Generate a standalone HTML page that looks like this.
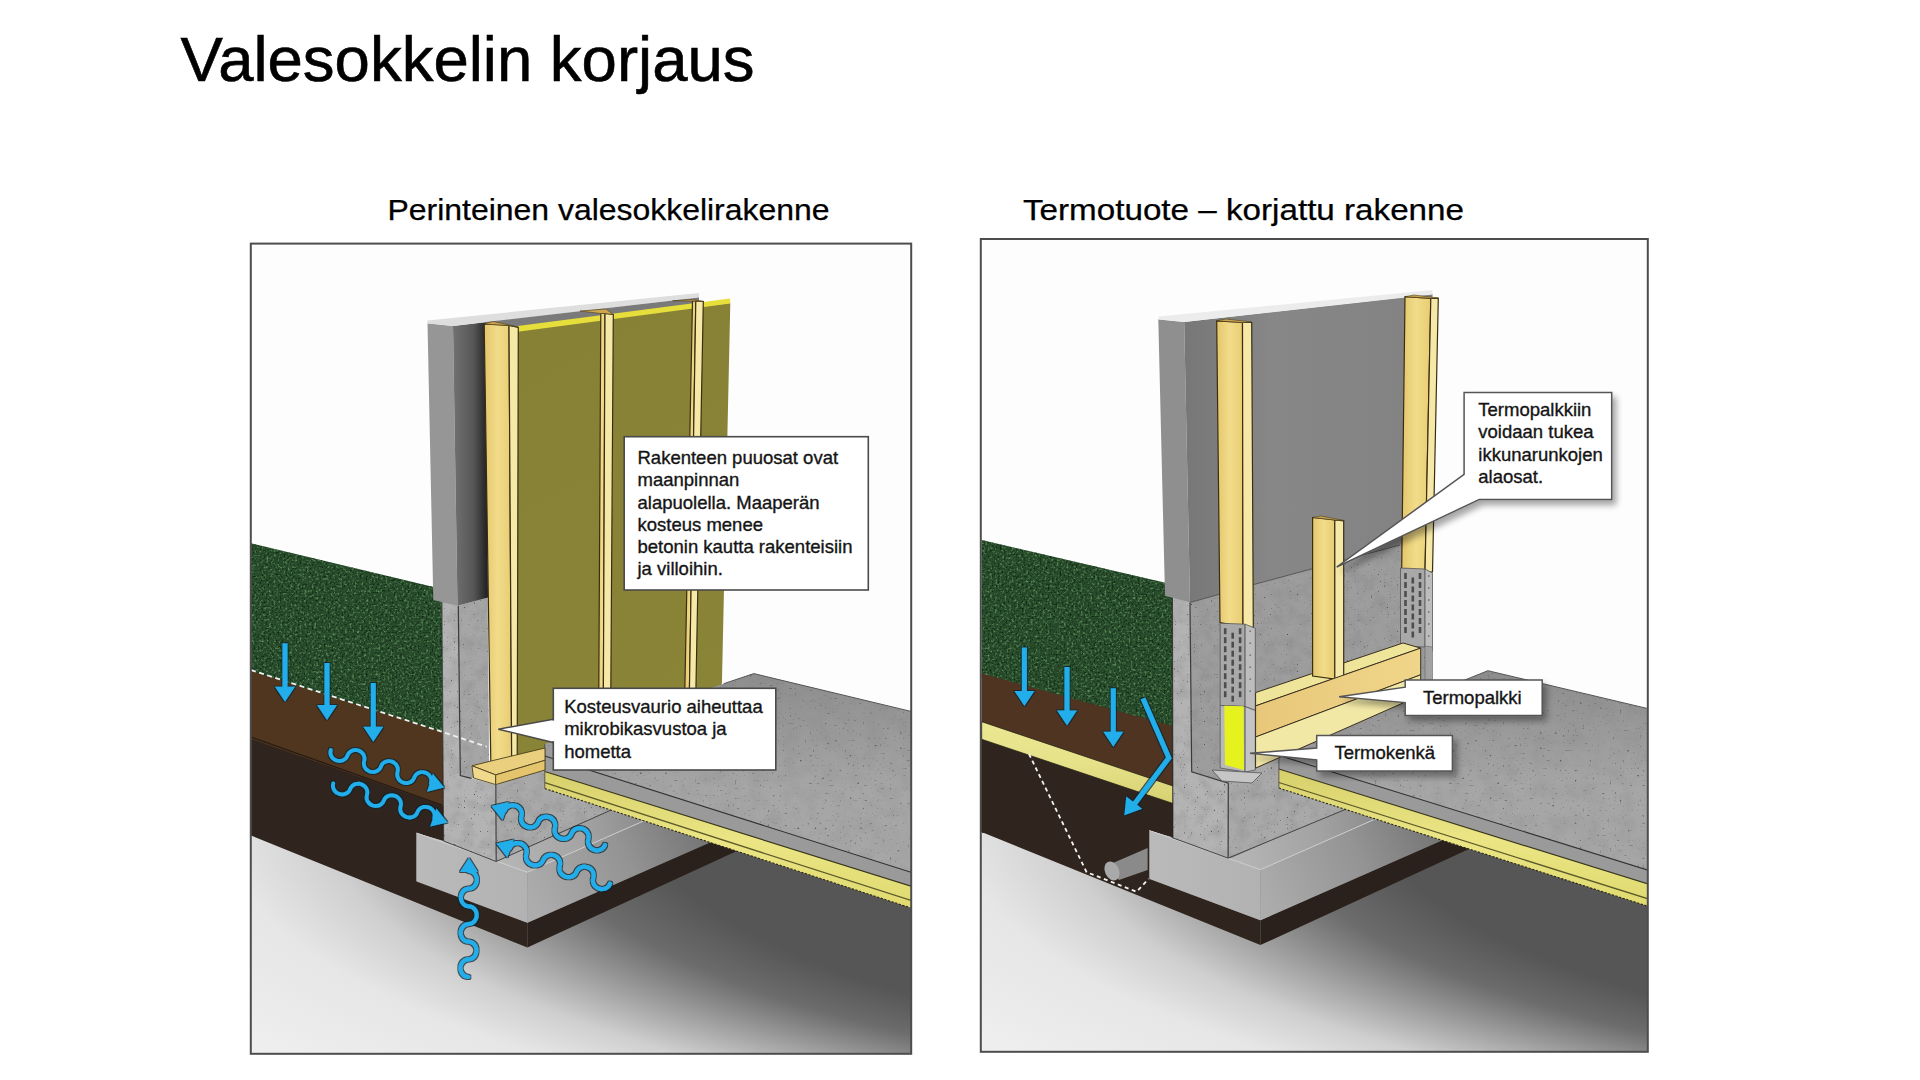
<!DOCTYPE html>
<html><head><meta charset="utf-8"><title>Valesokkelin korjaus</title>
<style>
html,body{margin:0;padding:0;background:#fff;width:1920px;height:1080px;overflow:hidden}
svg{position:absolute;left:0;top:0}
.c{font-family:"Liberation Sans",sans-serif;font-size:18.5px;fill:#151515;stroke:#151515;stroke-width:0.35px}
.t{font-family:"Liberation Sans",sans-serif;fill:#000;stroke:#000;stroke-width:0.6px}
</style></head><body>
<svg width="1920" height="1080" viewBox="0 0 1920 1080">

<defs>
 <radialGradient id="floorL" gradientUnits="userSpaceOnUse" cx="0" cy="0" r="1.8" gradientTransform="translate(2000 768.5) rotate(-1.83) scale(1124.7 268)">
   <stop offset="0" stop-color="#565656"/><stop offset="0.671" stop-color="#565656"/><stop offset="0.723" stop-color="#6c6c6c"/><stop offset="0.775" stop-color="#9e9e9e"/><stop offset="0.827" stop-color="#cfcfcf"/><stop offset="0.879" stop-color="#e6e6e6"/><stop offset="1" stop-color="#f0f0f0"/></radialGradient>
 <linearGradient id="footFront" x1="0" y1="0" x2="1" y2="0"><stop offset="0" stop-color="#bababa"/><stop offset="1" stop-color="#b2b2b2"/></linearGradient>
 <linearGradient id="footTop" gradientUnits="userSpaceOnUse" x1="450" y1="850" x2="780" y2="760"><stop offset="0" stop-color="#c0c0c0"/><stop offset="0.4" stop-color="#a2a2a2"/><stop offset="0.7" stop-color="#7c7c7c"/><stop offset="1" stop-color="#666"/></linearGradient>
 <linearGradient id="footRight" gradientUnits="userSpaceOnUse" x1="530" y1="900" x2="800" y2="780"><stop offset="0" stop-color="#acacac"/><stop offset="0.35" stop-color="#949494"/><stop offset="0.65" stop-color="#737373"/><stop offset="1" stop-color="#5f5f5f"/></linearGradient>
 <linearGradient id="concFrontL" x1="0" y1="0" x2="1" y2="0"><stop offset="0" stop-color="#727272"/><stop offset="0.6" stop-color="#555"/><stop offset="1" stop-color="#1e1e1e"/></linearGradient>
 <linearGradient id="concFrontR" gradientUnits="userSpaceOnUse" x1="1184" y1="0" x2="1432" y2="0"><stop offset="0" stop-color="#777"/><stop offset="0.15" stop-color="#7d7d7d"/><stop offset="0.35" stop-color="#878787"/><stop offset="1" stop-color="#828282"/></linearGradient>
 <linearGradient id="woolL" gradientUnits="userSpaceOnUse" x1="520" y1="330" x2="730" y2="700"><stop offset="0" stop-color="#878136"/><stop offset="1" stop-color="#8a8437"/></linearGradient>
 <linearGradient id="woodF" x1="0" y1="0" x2="1" y2="0"><stop offset="0" stop-color="#e4c66c"/><stop offset="0.5" stop-color="#f2dc8a"/><stop offset="1" stop-color="#e8cc72"/></linearGradient>
 <linearGradient id="woodBeam" x1="0" y1="0" x2="1" y2="0"><stop offset="0" stop-color="#e8c77a"/><stop offset="1" stop-color="#f0d68a"/></linearGradient>
 <linearGradient id="yellowIns" x1="0" y1="0" x2="0" y2="1"><stop offset="0" stop-color="#d6cf6a"/><stop offset="0.5" stop-color="#ebe585"/><stop offset="1" stop-color="#e0da70"/></linearGradient>
 <linearGradient id="yellowBand" x1="0" y1="0" x2="0" y2="1"><stop offset="0" stop-color="#ebe792"/><stop offset="0.5" stop-color="#e6e28a"/><stop offset="1" stop-color="#d6d070"/></linearGradient>
 <linearGradient id="slabTop" gradientUnits="userSpaceOnUse" x1="0" y1="680" x2="0" y2="790"><stop offset="0" stop-color="#8f8f8f"/><stop offset="1" stop-color="#a6a6a6"/></linearGradient>
 <linearGradient id="slabTopR" gradientUnits="userSpaceOnUse" x1="0" y1="678" x2="0" y2="788"><stop offset="0" stop-color="#8f8f8f"/><stop offset="1" stop-color="#a6a6a6"/></linearGradient>
 <filter id="grassTex" x="0" y="0" width="100%" height="100%" color-interpolation-filters="sRGB">
   <feTurbulence type="fractalNoise" baseFrequency="0.42" numOctaves="2" seed="4" result="n"/>
   <feColorMatrix in="n" type="matrix" values="0 0 0 0 0.36  0 0 0 0 0.56  0 0 0 0 0.34  3.2 0 0 0 -1.65" result="spk"/>
   <feTurbulence type="fractalNoise" baseFrequency="0.5" numOctaves="2" seed="9" result="n2"/>
   <feColorMatrix in="n2" type="matrix" values="0 0 0 0 0.05  0 0 0 0 0.14  0 0 0 0 0.06  3.0 0 0 0 -1.45" result="dk"/>
   <feComposite in="spk" in2="SourceAlpha" operator="in" result="spk2"/>
   <feComposite in="dk" in2="SourceAlpha" operator="in" result="dk2"/>
   <feMerge><feMergeNode in="SourceGraphic"/><feMergeNode in="dk2"/><feMergeNode in="spk2"/></feMerge>
 </filter>
 <filter id="concTex" x="0" y="0" width="100%" height="100%" color-interpolation-filters="sRGB">
   <feTurbulence type="fractalNoise" baseFrequency="0.08" numOctaves="3" seed="7" result="n"/>
   <feColorMatrix in="n" type="matrix" values="0 0 0 0 0.45  0 0 0 0 0.45  0 0 0 0 0.45  -0.5 0 0 0 0.3" result="blot"/>
   <feTurbulence type="fractalNoise" baseFrequency="0.7" numOctaves="1" seed="3" result="m"/>
   <feColorMatrix in="m" type="matrix" values="0 0 0 0 0.3  0 0 0 0 0.3  0 0 0 0 0.3  -8 0 0 0 2.45" result="spk"/>
   <feComposite in="blot" in2="SourceAlpha" operator="in" result="b2"/>
   <feComposite in="spk" in2="SourceAlpha" operator="in" result="s2"/>
   <feMerge><feMergeNode in="SourceGraphic"/><feMergeNode in="b2"/><feMergeNode in="s2"/></feMerge>
 </filter>
 <filter id="concTex2" x="0" y="0" width="100%" height="100%" color-interpolation-filters="sRGB">
   <feTurbulence type="fractalNoise" baseFrequency="0.06" numOctaves="3" seed="12" result="n"/>
   <feColorMatrix in="n" type="matrix" values="0 0 0 0 0.5  0 0 0 0 0.5  0 0 0 0 0.5  -0.45 0 0 0 0.27" result="blot"/>
   <feTurbulence type="fractalNoise" baseFrequency="0.4" numOctaves="1" seed="11" result="m"/>
   <feColorMatrix in="m" type="matrix" values="0 0 0 0 0.35  0 0 0 0 0.35  0 0 0 0 0.35  -6 0 0 0 1.95" result="spk"/>
   <feComposite in="blot" in2="SourceAlpha" operator="in" result="b2"/>
   <feComposite in="spk" in2="SourceAlpha" operator="in" result="s2"/>
   <feMerge><feMergeNode in="SourceGraphic"/><feMergeNode in="b2"/><feMergeNode in="s2"/></feMerge>
 </filter>
 <filter id="shadow" x="-20%" y="-20%" width="150%" height="150%"><feGaussianBlur in="SourceAlpha" stdDeviation="3"/><feOffset dx="4" dy="5"/><feComponentTransfer><feFuncA type="linear" slope="0.35"/></feComponentTransfer><feMerge><feMergeNode/><feMergeNode in="SourceGraphic"/></feMerge></filter>
 <filter id="outline" x="-5%" y="-5%" width="110%" height="110%">
   <feMorphology in="SourceAlpha" operator="dilate" radius="0.9" result="d"/>
   <feFlood flood-color="#10222c" flood-opacity="0.75"/><feComposite in2="d" operator="in" result="o"/>
   <feMerge><feMergeNode in="o"/><feMergeNode in="SourceGraphic"/></feMerge>
 </filter>
 <clipPath id="clipL"><rect x="251" y="244" width="660" height="809"/></clipPath>
 <clipPath id="clipR"><rect x="981" y="240" width="666" height="811"/></clipPath>
</defs>

<text class="t" x="180.5" y="81.2" font-size="63" textLength="574" lengthAdjust="spacingAndGlyphs">Valesokkelin korjaus</text>
<text class="t" style="stroke-width:0.25px" x="387.5" y="220" font-size="29" textLength="442" lengthAdjust="spacingAndGlyphs">Perinteinen valesokkelirakenne</text>
<text class="t" style="stroke-width:0.25px" x="1023" y="220" font-size="29" textLength="441" lengthAdjust="spacingAndGlyphs">Termotuote – korjattu rakenne</text>
<g clip-path="url(#clipL)">
<rect x="251" y="244" width="660" height="809" fill="#fdfdfd"/>
<polygon points="240.0,800.0 540.0,800.0 753.0,705.0 925.0,745.0 925.0,1060.0 240.0,1060.0" fill="url(#floorL)" />
<polygon points="240.0,733.0 446.0,805.0 446.0,842.0 416.5,833.0 416.5,881.5 527.4,922.8 527.4,947.6 240.0,831.0" fill="#2f241e" />
<polygon points="527.4,922.8 800.0,803.0 800.0,822.0 527.4,947.6" fill="#2b211c" />
<polygon points="416.5,833.0 527.4,872.2 527.4,922.8 416.5,881.0" fill="url(#footFront)" />
<polygon points="416.5,833.0 443.6,841.0 496.2,861.5 606.7,811.7 770.0,742.0 800.0,752.0 527.4,872.2" fill="url(#footTop)" />
<polygon points="527.4,872.2 800.0,752.0 800.0,803.0 527.4,922.8" fill="url(#footRight)" />
<polyline points="416.5,833.0 527.4,872.2 800.0,752.0" fill="none" stroke="#d0d0d0" stroke-width="1"/>
<g filter="url(#grassTex)"><polygon points="251.0,543.3 432.5,586.7 446.0,589.0 446.0,738.0 251.0,676.0" fill="#284b2c" /></g>
<polygon points="251.0,671.0 446.0,733.0 446.0,807.0 251.0,739.0" fill="#50361f" />
<line x1="251" y1="737" x2="442" y2="805" stroke="#241a14" stroke-width="1.2"/>
<g filter="url(#concTex)"><polygon points="495.8,785.0 560.0,760.0 640.0,732.0 640.0,797.0 496.2,861.5" fill="#a9a9a9" /><polygon points="441.7,598.0 458.3,605.8 487.5,597.5 489.0,770.0 471.4,778.3 495.8,785.0 496.2,861.5 443.6,841.0" fill="#b3b3b3" /><polygon points="458.3,605.8 487.5,597.5 489.0,770.0 471.4,778.3 460.3,775.6" fill="#a6a6a6" /></g>
<polyline points="458.3,605.8 460.3,775.6 471.4,778.3" fill="none" stroke="#3a3a3a" stroke-width="1.2"/>
<line x1="441.9" y1="600" x2="443.6" y2="841" stroke="#222" stroke-width="1.2" stroke-opacity="0.6"/>
<polyline points="495.8,785.0 496.2,861.5" fill="none" stroke="#444" stroke-width="1.2"/>
<polyline points="443.6,841.0 496.2,861.5 640.0,797.0" fill="none" stroke="#444" stroke-width="1"/>
<polygon points="427.5,323.3 453.0,326.0 457.5,605.8 433.3,600.0" fill="#969696" />
<polygon points="453.0,326.0 486.0,322.0 488.0,597.5 457.5,605.8" fill="url(#concFrontL)" />
<polygon points="427.5,320.5 699.0,293.0 699.0,297.5 453.0,326.0 427.5,323.5" fill="#dedede" />
<polygon points="486.0,322.0 699.0,297.5 699.0,310.0 486.0,330.0" fill="#7a7a7a" />
<polygon points="512.0,331.0 730.3,303.0 727.5,430.0 721.9,684.6 552.5,750.7 512.0,762.0" fill="url(#woolL)" />
<polygon points="510.0,327.0 730.0,298.5 730.3,303.5 516.0,332.0" fill="#e6de3a" />
<polygon points="544.8,744.0 723.7,683.7 753.8,673.6 911.0,711.4 911.0,872.3 544.8,756.0" fill="url(#slabTop)" filter="url(#concTex2)"/>
<polyline points="723.7,683.7 753.8,673.6 911.0,711.4" fill="none" stroke="#555" stroke-width="1"/>
<polygon points="544.8,756.0 911.0,872.3 911.0,886.2 544.8,771.5" fill="#9a9a9a" />
<line x1="544.8" y1="756" x2="911" y2="872.3" stroke="#333" stroke-width="1.1"/>
<polygon points="544.8,771.5 911.0,886.2 911.0,908.0 544.8,788.5" fill="url(#yellowIns)" />
<line x1="544.8" y1="771.5" x2="911" y2="886.2" stroke="#3a3820" stroke-width="1.2"/>
<line x1="544.8" y1="782.7" x2="911" y2="900.5" stroke="#5d5a2a" stroke-width="1.3"/>
<line x1="544.8" y1="788.5" x2="911" y2="908" stroke="#2a2818" stroke-width="1.1" stroke-dasharray="2.2,1.6"/>
<line x1="544.8" y1="744" x2="544.8" y2="788.5" stroke="#444" stroke-width="0.8"/>
<polygon points="484.2,324.0 509.0,325.5 511.7,764.4 490.8,761.7" fill="url(#woodF)" stroke="#3a2e12" stroke-width="1.2"/><polygon points="509.0,325.5 518.3,327.5 517.2,762.0 511.7,764.4" fill="#f6e9a8" stroke="#3a2e12" stroke-width="1.2"/><polygon points="484.2,324.0 493.0,321.5 518.3,327.0 509.0,325.5" fill="#cfa64f" stroke="#4a3f1c" stroke-width="0.6"/>
<polygon points="600.8,313.5 605.0,313.5 603.3,708.0 598.7,708.0" fill="url(#woodF)" stroke="#3a2e12" stroke-width="1.2"/><polygon points="605.0,313.5 613.3,314.5 610.7,707.0 603.3,708.0" fill="#f6e9a8" stroke="#3a2e12" stroke-width="1.2"/><polygon points="600.8,313.5 580.0,311.0 606.0,309.0 613.3,314.5 605.0,313.5" fill="#cfa64f" stroke="#4a3f1c" stroke-width="0.6"/>
<polygon points="692.5,301.0 695.8,301.0 689.4,691.0 684.8,691.0" fill="url(#woodF)" stroke="#3a2e12" stroke-width="1.2"/><polygon points="695.8,301.0 703.3,301.5 695.9,690.0 689.4,691.0" fill="#f6e9a8" stroke="#3a2e12" stroke-width="1.2"/><polygon points="672.6,300.8 692.0,299.5 704.0,301.5 692.5,301.0" fill="#cfa64f" stroke="#4a3f1c" stroke-width="0.6"/>
<polygon points="472.0,765.8 491.0,761.0 545.0,748.0 545.0,760.3 495.7,774.9" fill="#e9cf7e" stroke="#4a3f1c" stroke-width="0.9"/>
<polygon points="472.0,765.8 495.7,774.9 495.7,784.6 473.5,778.0" fill="#f0d98c" stroke="#4a3f1c" stroke-width="0.9"/>
<polygon points="495.7,774.9 545.0,760.3 545.0,770.0 495.7,784.6" fill="#e4c56e" stroke="#4a3f1c" stroke-width="0.9"/>
<polyline points="251.0,670.0 441.7,731.7 486.7,746.7" fill="none" stroke="#f0f0f0" stroke-width="1.8" stroke-dasharray="5,3.5"/>
<g filter="url(#outline)"><line x1="285" y1="643.3" x2="285" y2="687.7" stroke="#22aeea" stroke-width="5"/><polygon points="285.0,701.7 275.0,686.7 295.0,686.7" fill="#22aeea"/><line x1="327" y1="663" x2="327" y2="706" stroke="#22aeea" stroke-width="5"/><polygon points="327.0,720.0 317.0,705.0 337.0,705.0" fill="#22aeea"/><line x1="373.3" y1="683" x2="373.3" y2="727.7" stroke="#22aeea" stroke-width="5"/><polygon points="373.3,741.7 363.3,726.7 383.3,726.7" fill="#22aeea"/><path d="M330.8,750.0 L330.4,752.1 L330.6,754.3 L331.4,756.3 L332.7,758.1 L334.5,759.6 L336.6,760.5 L338.8,761.0 L341.1,760.9 L343.2,760.2 L345.1,759.0 L346.5,757.4 L347.5,755.5 L347.5,755.5 L348.4,753.6 L349.9,752.0 L351.7,750.8 L353.9,750.2 L356.2,750.0 L358.4,750.5 L360.5,751.5 L362.2,752.9 L363.5,754.7 L364.3,756.8 L364.6,758.9 L364.2,761.0 L364.2,761.0 L363.8,763.1 L364.0,765.3 L364.8,767.3 L366.1,769.2 L367.9,770.6 L369.9,771.6 L372.2,772.0 L374.5,771.9 L376.6,771.2 L378.4,770.1 L379.9,768.5 L380.9,766.6 L380.9,766.6 L381.8,764.6 L383.3,763.0 L385.1,761.9 L387.3,761.2 L389.5,761.1 L391.8,761.5 L393.8,762.5 L395.6,763.9 L396.9,765.8 L397.7,767.8 L397.9,770.0 L397.5,772.1 L397.5,772.1 L397.2,774.2 L397.4,776.3 L398.2,778.4 L399.5,780.2 L401.2,781.6 L403.3,782.6 L405.6,783.1 L407.8,783.0 L410.0,782.3 L411.8,781.1 L413.3,779.5 L414.2,777.6 L414.2,777.6 L415.2,775.7 L416.6,774.1 L418.5,772.9 L420.6,772.2 L422.9,772.1 L425.1,772.6 L427.2,773.5 L429.0,775.0 L430.3,776.8 L431.1,778.8 L431.3,781.0 L430.9,783.1" fill="none" stroke="#22aeea" stroke-width="3.8" stroke-linecap="round" stroke-linejoin="round"/><polygon points="444.2,787.5 427.0,791.8 432.9,773.8" fill="#22aeea"/><path d="M333.3,783.3 L332.9,785.4 L333.1,787.6 L333.9,789.6 L335.2,791.5 L337.0,792.9 L339.1,793.9 L341.3,794.4 L343.6,794.3 L345.8,793.7 L347.7,792.6 L349.2,791.0 L350.1,789.1 L350.1,789.1 L351.1,787.2 L352.6,785.6 L354.5,784.4 L356.6,783.8 L358.9,783.7 L361.2,784.2 L363.3,785.2 L365.1,786.7 L366.4,788.5 L367.2,790.6 L367.4,792.7 L367.0,794.9 L367.0,794.9 L366.6,797.0 L366.7,799.1 L367.5,801.2 L368.9,803.0 L370.6,804.5 L372.7,805.5 L375.0,806.0 L377.3,805.9 L379.4,805.3 L381.3,804.1 L382.8,802.5 L383.8,800.6 L383.8,800.6 L384.8,798.7 L386.2,797.1 L388.1,796.0 L390.3,795.4 L392.6,795.3 L394.9,795.8 L396.9,796.8 L398.7,798.2 L400.0,800.1 L400.8,802.1 L401.0,804.3 L400.6,806.4 L400.6,806.4 L400.2,808.5 L400.4,810.7 L401.2,812.7 L402.5,814.6 L404.3,816.0 L406.4,817.0 L408.6,817.5 L410.9,817.5 L413.1,816.8 L415.0,815.7 L416.5,814.1 L417.4,812.2 L417.4,812.2 L418.4,810.3 L419.9,808.7 L421.8,807.5 L423.9,806.9 L426.2,806.8 L428.5,807.3 L430.6,808.3 L432.4,809.8 L433.7,811.6 L434.5,813.7 L434.7,815.8 L434.3,818.0" fill="none" stroke="#22aeea" stroke-width="3.8" stroke-linecap="round" stroke-linejoin="round"/><polygon points="447.5,822.5 430.2,826.6 436.4,808.6" fill="#22aeea"/><path d="M605.0,845.0 L604.0,846.9 L602.5,848.5 L600.7,849.6 L598.5,850.3 L596.2,850.4 L594.0,849.9 L591.9,848.9 L590.2,847.4 L588.9,845.6 L588.1,843.5 L587.9,841.4 L588.3,839.3 L588.3,839.3 L588.7,837.2 L588.5,835.0 L587.7,832.9 L586.4,831.1 L584.7,829.6 L582.6,828.6 L580.3,828.2 L578.1,828.2 L575.9,828.9 L574.0,830.0 L572.6,831.6 L571.6,833.5 L571.6,833.5 L570.6,835.4 L569.1,837.0 L567.2,838.2 L565.1,838.8 L562.8,838.9 L560.6,838.4 L558.5,837.4 L556.7,835.9 L555.4,834.1 L554.7,832.0 L554.5,829.9 L554.9,827.8 L554.9,827.8 L555.3,825.7 L555.1,823.5 L554.3,821.5 L553.0,819.6 L551.3,818.2 L549.2,817.1 L546.9,816.7 L544.6,816.8 L542.5,817.4 L540.6,818.5 L539.1,820.1 L538.2,822.0 L538.2,822.0 L537.2,823.9 L535.7,825.5 L533.8,826.7 L531.7,827.3 L529.4,827.4 L527.1,826.9 L525.1,825.9 L523.3,824.4 L522.0,822.6 L521.2,820.6 L521.0,818.4 L521.5,816.3 L521.5,816.3 L521.9,814.2 L521.7,812.0 L520.9,810.0 L519.6,808.1 L517.8,806.7 L515.8,805.7 L513.5,805.2 L511.2,805.3 L509.1,805.9 L507.2,807.1 L505.7,808.6 L504.7,810.5" fill="none" stroke="#22aeea" stroke-width="4.2" stroke-linecap="round" stroke-linejoin="round"/><polygon points="491.5,806.0 508.8,801.9 502.6,819.9" fill="#22aeea"/><path d="M610.0,883.8 L609.0,885.7 L607.5,887.3 L605.6,888.4 L603.4,889.0 L601.2,889.1 L598.9,888.6 L596.8,887.5 L595.1,886.1 L593.8,884.2 L593.0,882.1 L592.8,880.0 L593.3,877.9 L593.3,877.9 L593.7,875.8 L593.5,873.6 L592.8,871.5 L591.5,869.7 L589.7,868.2 L587.6,867.2 L585.4,866.7 L583.1,866.7 L580.9,867.4 L579.0,868.5 L577.5,870.1 L576.5,872.0 L576.5,872.0 L575.5,873.9 L574.0,875.4 L572.1,876.6 L570.0,877.2 L567.7,877.2 L565.4,876.7 L563.4,875.7 L561.6,874.2 L560.3,872.4 L559.6,870.3 L559.4,868.1 L559.8,866.0 L559.8,866.0 L560.2,863.9 L560.0,861.8 L559.3,859.7 L558.0,857.9 L556.2,856.4 L554.2,855.3 L551.9,854.8 L549.6,854.9 L547.5,855.5 L545.6,856.6 L544.1,858.2 L543.1,860.1 L543.1,860.1 L542.1,862.0 L540.6,863.6 L538.7,864.7 L536.5,865.3 L534.2,865.4 L532.0,864.9 L529.9,863.9 L528.1,862.4 L526.8,860.5 L526.1,858.5 L525.9,856.3 L526.3,854.2 L526.3,854.2 L526.8,852.1 L526.6,849.9 L525.8,847.9 L524.5,846.0 L522.8,844.5 L520.7,843.5 L518.4,843.0 L516.2,843.1 L514.0,843.7 L512.1,844.8 L510.6,846.4 L509.6,848.3" fill="none" stroke="#22aeea" stroke-width="4.2" stroke-linecap="round" stroke-linejoin="round"/><polygon points="496.4,843.6 513.7,839.6 507.4,857.6" fill="#22aeea"/><path d="M468.4,977.0 L466.3,976.7 L464.4,975.8 L462.8,974.4 L461.5,972.5 L460.7,970.4 L460.4,968.1 L460.7,965.8 L461.5,963.7 L462.8,961.9 L464.5,960.5 L466.4,959.6 L468.5,959.3 L468.5,959.3 L470.6,959.0 L472.5,958.2 L474.2,956.8 L475.4,955.0 L476.2,952.8 L476.5,950.5 L476.3,948.3 L475.5,946.1 L474.2,944.3 L472.6,942.9 L470.6,942.0 L468.6,941.7 L468.6,941.7 L466.5,941.4 L464.6,940.5 L462.9,939.1 L461.7,937.2 L460.9,935.1 L460.6,932.8 L460.9,930.5 L461.7,928.4 L463.0,926.6 L464.7,925.2 L466.6,924.3 L468.7,924.0 L468.7,924.0 L470.7,923.7 L472.7,922.8 L474.3,921.4 L475.6,919.6 L476.4,917.5 L476.7,915.2 L476.5,912.9 L475.7,910.8 L474.4,908.9 L472.8,907.5 L470.8,906.6 L468.8,906.3 L468.8,906.3 L466.7,906.0 L464.8,905.1 L463.1,903.7 L461.9,901.9 L461.1,899.7 L460.8,897.5 L461.1,895.2 L461.9,893.0 L463.2,891.2 L464.8,889.8 L466.8,889.0 L468.8,888.7 L468.8,888.7 L470.9,888.4 L472.9,887.5 L474.5,886.1 L475.8,884.3 L476.6,882.2 L476.9,879.9 L476.6,877.6 L475.8,875.5 L474.6,873.6 L472.9,872.2 L471.0,871.3 L468.9,871.0" fill="none" stroke="#22aeea" stroke-width="4.2" stroke-linecap="round" stroke-linejoin="round"/><polygon points="469.0,858.0 477.9,872.0 459.9,872.0" fill="#22aeea"/></g>
<rect x="624.2" y="436.7" width="244.1" height="153.3" fill="#fff" stroke="#4a4a4a" stroke-width="1.6"/>
<text x="637.5" y="464.2" class="c">Rakenteen puuosat ovat</text>
<text x="637.5" y="486.4" class="c">maanpinnan</text>
<text x="637.5" y="508.6" class="c">alapuolella. Maaperän</text>
<text x="637.5" y="530.8" class="c">kosteus menee</text>
<text x="637.5" y="553.0" class="c">betonin kautta rakenteisiin</text>
<text x="637.5" y="575.2" class="c">ja villoihin.</text>
<polygon points="553.3,719.2 498.3,729.2 553.3,742.5" fill="#fff" stroke="#4a4a4a" stroke-width="1.4"/>
<rect x="553.3" y="688.3" width="222.5" height="81.7" fill="#fff" stroke="#4a4a4a" stroke-width="1.6"/>
<rect x="552" y="720.6" width="3" height="20.5" fill="#fff"/>
<text x="564.2" y="712.5" class="c">Kosteusvaurio aiheuttaa</text>
<text x="564.2" y="735.0" class="c">mikrobikasvustoa ja</text>
<text x="564.2" y="757.5" class="c">hometta</text>
</g>
<rect x="250.8" y="243.6" width="660.4" height="810.2" fill="none" stroke="#4d4d4d" stroke-width="2"/>
<g clip-path="url(#clipR)">
<rect x="981" y="240" width="666" height="811" fill="#fdfdfd"/>
<g transform="translate(733,-2.5)"><polygon points="240.0,800.0 540.0,800.0 753.0,705.0 925.0,745.0 925.0,1060.0 240.0,1060.0" fill="url(#floorL)" /><polygon points="240.0,733.0 446.0,805.0 446.0,842.0 416.5,833.0 416.5,881.5 527.4,922.8 527.4,947.6 240.0,831.0" fill="#2f241e" /><polygon points="527.4,922.8 800.0,803.0 800.0,822.0 527.4,947.6" fill="#2b211c" /><polygon points="416.5,833.0 527.4,872.2 527.4,922.8 416.5,881.0" fill="url(#footFront)" /><polygon points="416.5,833.0 443.6,841.0 496.2,861.5 606.7,811.7 770.0,742.0 800.0,752.0 527.4,872.2" fill="url(#footTop)" /><polygon points="527.4,872.2 800.0,752.0 800.0,803.0 527.4,922.8" fill="url(#footRight)" /><polyline points="416.5,833.0 527.4,872.2 800.0,752.0" fill="none" stroke="#d0d0d0" stroke-width="1"/></g>
<g filter="url(#grassTex)"><polygon points="981.7,540.0 1164.2,582.5 1176.0,584.0 1176.0,732.0 981.7,678.5" fill="#284b2c" /></g>
<polygon points="981.7,673.5 1176.0,727.0 1176.0,796.0 981.7,731.0" fill="#4f3421" />
<polygon points="981.7,735.0 1176.0,800.0 1176.0,838.0 1150.0,830.0 982.2,833.0" fill="#2f241e" />
<polygon points="981.7,721.7 1176.0,787.0 1176.0,804.5 981.7,739.3" fill="url(#yellowBand)" stroke="#2a2418" stroke-width="0.8"/>
<g filter="url(#concTex)"><polygon points="1228.3,770.0 1300.0,745.0 1380.0,730.0 1380.0,795.0 1228.1,858.1" fill="#a9a9a9" /><polygon points="1190.0,602.5 1255.0,584.2 1400.0,545.0 1432.0,540.0 1432.0,690.0 1300.0,745.0 1228.3,783.3 1191.7,771.7" fill="#9d9d9d" /><polygon points="1172.5,597.0 1190.0,602.5 1191.7,771.7 1228.3,783.3 1228.1,858.1 1173.0,838.0" fill="#b3b3b3" /></g>
<polyline points="1190.0,602.5 1191.7,771.7 1228.3,783.3 1228.1,858.1" fill="none" stroke="#3a3a3a" stroke-width="1.2"/>
<line x1="1172.3" y1="597" x2="1172.8" y2="838" stroke="#222" stroke-width="1.4" stroke-opacity="0.7"/>
<polyline points="1171.5,837.4 1228.1,858.1 1380.0,795.0" fill="none" stroke="#444" stroke-width="1"/>
<polygon points="1158.3,319.2 1184.2,322.0 1190.0,602.5 1165.0,595.8" fill="#8f8f8f" />
<polygon points="1184.2,322.0 1432.5,294.0 1432.0,540.0 1400.0,545.0 1255.0,584.2 1190.0,602.5" fill="url(#concFrontR)" />
<polygon points="1158.3,316.5 1432.5,290.0 1432.5,294.5 1184.2,322.0 1158.3,319.5" fill="#ececec" />
<polyline points="1190.0,602.5 1255.0,584.2 1400.0,545.0" fill="none" stroke="#555" stroke-width="1"/>
<polygon points="1278.9,743.4 1440.0,690.0 1487.9,670.7 1647.5,708.5 1647.5,870.0 1278.9,755.4" fill="url(#slabTopR)" filter="url(#concTex2)"/>
<polyline points="1440.0,690.0 1487.9,670.7 1647.5,708.5" fill="none" stroke="#555" stroke-width="1"/>
<polygon points="1278.9,755.4 1647.5,870.0 1647.5,883.9 1278.9,769.0" fill="#9a9a9a" />
<line x1="1278.9" y1="755.4" x2="1647.5" y2="870" stroke="#333" stroke-width="1.1"/>
<polygon points="1278.9,769.0 1647.5,883.9 1647.5,906.1 1278.9,788.1" fill="url(#yellowIns)" />
<line x1="1278.9" y1="769" x2="1647.5" y2="883.9" stroke="#3a3820" stroke-width="1.2"/>
<line x1="1278.9" y1="782.5" x2="1647.5" y2="898.7" stroke="#5d5a2a" stroke-width="1.3"/>
<line x1="1278.9" y1="788.1" x2="1647.5" y2="906.1" stroke="#2a2818" stroke-width="1.1" stroke-dasharray="2.2,1.6"/>
<line x1="1278.9" y1="743.4" x2="1278.9" y2="788.1" stroke="#444" stroke-width="0.8"/>
<polygon points="1216.7,320.8 1242.5,322.5 1243.0,627.0 1220.0,622.5" fill="url(#woodF)" stroke="#3a2e12" stroke-width="1.2"/><polygon points="1242.5,322.5 1251.7,322.5 1253.3,627.5 1243.0,627.0" fill="#f6e9a8" stroke="#3a2e12" stroke-width="1.2"/><polygon points="1216.7,320.8 1226.0,319.0 1251.7,322.0 1242.5,322.5" fill="#cfa64f" stroke="#4a3f1c" stroke-width="0.6"/>
<polygon points="1405.0,296.7 1430.8,298.3 1425.0,572.0 1401.7,568.3" fill="url(#woodF)" stroke="#3a2e12" stroke-width="1.2"/><polygon points="1430.8,298.3 1438.3,298.3 1432.5,572.0 1425.0,572.0" fill="#f6e9a8" stroke="#3a2e12" stroke-width="1.2"/><polygon points="1405.0,296.7 1414.0,295.0 1438.3,298.0 1430.8,298.3" fill="#cfa64f" stroke="#4a3f1c" stroke-width="0.6"/>
<polygon points="1220.2,623.2 1245.1,624.2 1245.1,706.5 1220.2,705.5" fill="#a9a9a9" stroke="#555" stroke-width="0.8"/><polygon points="1245.1,624.2 1255.3,628.2 1255.3,710.5 1245.1,706.5" fill="#bdbdbd" stroke="#555" stroke-width="0.8"/><rect x="1223.9" y="628.2" width="2.6" height="6" fill="#4d4d4d"/><rect x="1223.9" y="637.2" width="2.6" height="6" fill="#4d4d4d"/><rect x="1223.9" y="646.2" width="2.6" height="6" fill="#4d4d4d"/><rect x="1223.9" y="655.2" width="2.6" height="6" fill="#4d4d4d"/><rect x="1223.9" y="664.2" width="2.6" height="6" fill="#4d4d4d"/><rect x="1223.9" y="673.2" width="2.6" height="6" fill="#4d4d4d"/><rect x="1223.9" y="682.2" width="2.6" height="6" fill="#4d4d4d"/><rect x="1223.9" y="691.2" width="2.6" height="6" fill="#4d4d4d"/><rect x="1231.4" y="632.7" width="2.6" height="6" fill="#4d4d4d"/><rect x="1231.4" y="641.7" width="2.6" height="6" fill="#4d4d4d"/><rect x="1231.4" y="650.7" width="2.6" height="6" fill="#4d4d4d"/><rect x="1231.4" y="659.7" width="2.6" height="6" fill="#4d4d4d"/><rect x="1231.4" y="668.7" width="2.6" height="6" fill="#4d4d4d"/><rect x="1231.4" y="677.7" width="2.6" height="6" fill="#4d4d4d"/><rect x="1231.4" y="686.7" width="2.6" height="6" fill="#4d4d4d"/><rect x="1231.4" y="695.7" width="2.6" height="6" fill="#4d4d4d"/><rect x="1238.8" y="628.2" width="2.6" height="6" fill="#4d4d4d"/><rect x="1238.8" y="637.2" width="2.6" height="6" fill="#4d4d4d"/><rect x="1238.8" y="646.2" width="2.6" height="6" fill="#4d4d4d"/><rect x="1238.8" y="655.2" width="2.6" height="6" fill="#4d4d4d"/><rect x="1238.8" y="664.2" width="2.6" height="6" fill="#4d4d4d"/><rect x="1238.8" y="673.2" width="2.6" height="6" fill="#4d4d4d"/><rect x="1238.8" y="682.2" width="2.6" height="6" fill="#4d4d4d"/><rect x="1238.8" y="691.2" width="2.6" height="6" fill="#4d4d4d"/><circle cx="1250.2" cy="631.2" r="0.9" fill="#777"/><circle cx="1250.2" cy="643.2" r="0.9" fill="#777"/><circle cx="1250.2" cy="655.2" r="0.9" fill="#777"/><circle cx="1250.2" cy="667.2" r="0.9" fill="#777"/><circle cx="1250.2" cy="679.2" r="0.9" fill="#777"/><circle cx="1250.2" cy="691.2" r="0.9" fill="#777"/>
<polygon points="1400.5,568.0 1425.0,569.0 1425.0,647.0 1400.5,646.0" fill="#a9a9a9" stroke="#555" stroke-width="0.8"/><polygon points="1425.0,569.0 1432.5,573.0 1432.5,651.0 1425.0,647.0" fill="#bdbdbd" stroke="#555" stroke-width="0.8"/><rect x="1404.2" y="573.0" width="2.6" height="6" fill="#4d4d4d"/><rect x="1404.2" y="582.0" width="2.6" height="6" fill="#4d4d4d"/><rect x="1404.2" y="591.0" width="2.6" height="6" fill="#4d4d4d"/><rect x="1404.2" y="600.0" width="2.6" height="6" fill="#4d4d4d"/><rect x="1404.2" y="609.0" width="2.6" height="6" fill="#4d4d4d"/><rect x="1404.2" y="618.0" width="2.6" height="6" fill="#4d4d4d"/><rect x="1404.2" y="627.0" width="2.6" height="6" fill="#4d4d4d"/><rect x="1411.5" y="577.5" width="2.6" height="6" fill="#4d4d4d"/><rect x="1411.5" y="586.5" width="2.6" height="6" fill="#4d4d4d"/><rect x="1411.5" y="595.5" width="2.6" height="6" fill="#4d4d4d"/><rect x="1411.5" y="604.5" width="2.6" height="6" fill="#4d4d4d"/><rect x="1411.5" y="613.5" width="2.6" height="6" fill="#4d4d4d"/><rect x="1411.5" y="622.5" width="2.6" height="6" fill="#4d4d4d"/><rect x="1411.5" y="631.5" width="2.6" height="6" fill="#4d4d4d"/><rect x="1418.7" y="573.0" width="2.6" height="6" fill="#4d4d4d"/><rect x="1418.7" y="582.0" width="2.6" height="6" fill="#4d4d4d"/><rect x="1418.7" y="591.0" width="2.6" height="6" fill="#4d4d4d"/><rect x="1418.7" y="600.0" width="2.6" height="6" fill="#4d4d4d"/><rect x="1418.7" y="609.0" width="2.6" height="6" fill="#4d4d4d"/><rect x="1418.7" y="618.0" width="2.6" height="6" fill="#4d4d4d"/><rect x="1418.7" y="627.0" width="2.6" height="6" fill="#4d4d4d"/><circle cx="1428.8" cy="576.0" r="0.9" fill="#777"/><circle cx="1428.8" cy="588.0" r="0.9" fill="#777"/><circle cx="1428.8" cy="600.0" r="0.9" fill="#777"/><circle cx="1428.8" cy="612.0" r="0.9" fill="#777"/><circle cx="1428.8" cy="624.0" r="0.9" fill="#777"/><circle cx="1428.8" cy="636.0" r="0.9" fill="#777"/>
<polygon points="1425.0,646.0 1432.5,647.0 1432.5,690.0 1425.0,690.0" fill="#a2a2a2" stroke="#666" stroke-width="0.6"/>
<polygon points="1220.2,705.5 1245.1,706.5 1245.1,772.0 1220.2,768.0" fill="#b9b9b9" stroke="#555" stroke-width="0.8"/>
<polygon points="1245.1,706.5 1255.3,710.5 1255.3,770.0 1245.1,772.0" fill="#c4c4c4" stroke="#555" stroke-width="0.8"/>
<polygon points="1224.3,705.7 1243.6,706.2 1244.0,770.0 1225.0,765.0" fill="#e6f21e" />
<polygon points="1212.0,770.0 1262.0,773.0 1252.0,783.0 1222.0,781.0" fill="#c6c6c6" stroke="#555" stroke-width="0.8"/>
<polygon points="1255.6,692.6 1403.0,643.0 1420.7,648.1 1255.6,705.9" fill="#eee49a" stroke="#3a3020" stroke-width="1"/>
<polygon points="1312.6,517.5 1334.8,520.0 1334.8,679.0 1312.6,676.0" fill="url(#woodF)" stroke="#3a2e12" stroke-width="1.2"/><polygon points="1334.8,520.0 1343.7,520.8 1343.7,676.0 1334.8,679.0" fill="#f6e9a8" stroke="#3a2e12" stroke-width="1.2"/><polygon points="1312.6,517.5 1321.0,516.0 1343.7,520.5 1334.8,520.0" fill="#cfa64f" stroke="#4a3f1c" stroke-width="0.6"/>
<polygon points="1255.6,705.9 1420.7,648.1 1420.7,674.8 1255.6,737.0" fill="url(#woodBeam)" stroke="#3a3020" stroke-width="1"/>
<polygon points="1255.6,737.0 1420.7,674.8 1420.7,690.0 1403.0,703.0 1255.6,768.1" fill="#f2e8a6" stroke="#3a3020" stroke-width="1"/>
<polygon points="1106.0,866.0 1147.6,848.0 1147.6,870.0 1119.0,880.0" fill="#8a8a8a" />
<ellipse cx="1112" cy="871" rx="7" ry="10" transform="rotate(-25 1112 871)" fill="#a9a9a9"/>
<polyline points="1029.0,754.0 1086.6,872.2 1136.7,891.8 1148.7,878.8" fill="none" stroke="#f4f4f4" stroke-width="1.8" stroke-dasharray="4,3.5"/>
<g filter="url(#outline)"><line x1="1024.4" y1="647.6" x2="1024.4" y2="691.9" stroke="#22aeea" stroke-width="5"/><polygon points="1024.4,705.9 1014.4,690.9 1034.4,690.9" fill="#22aeea"/><line x1="1067" y1="667" x2="1067" y2="711.4" stroke="#22aeea" stroke-width="5"/><polygon points="1067.0,725.4 1057.0,710.4 1077.0,710.4" fill="#22aeea"/><line x1="1113.3" y1="688.3" x2="1113.3" y2="732.7" stroke="#22aeea" stroke-width="5"/><polygon points="1113.3,746.7 1103.3,731.7 1123.3,731.7" fill="#22aeea"/><polyline points="1143.0,698.5 1168.9,757.8 1133.0,806.0" fill="none" stroke="#22aeea" stroke-width="5" stroke-linejoin="miter"/><polygon points="1124.4,815.2 1126.3,796.4 1142.1,808.7" fill="#22aeea"/></g>
<g filter="url(#shadow)"><polygon points="1464.1,392.6 1611.7,392.6 1611.7,499.4 1479.3,499.4 1336.7,567.0 1464.1,474.4" fill="#fff" stroke="#555" stroke-width="1.5"/></g>
<text x="1478.3" y="416.1" class="c">Termopalkkiin</text>
<text x="1478.3" y="438.3" class="c">voidaan tukea</text>
<text x="1478.3" y="460.5" class="c">ikkunarunkojen</text>
<text x="1478.3" y="482.7" class="c">alaosat.</text>
<g filter="url(#shadow)"><polygon points="1405.2,680.1 1542.2,680.1 1542.2,715.6 1405.2,715.6 1405.2,702.6 1339.1,696.7 1405.2,687.2" fill="#fff" stroke="#555" stroke-width="1.5"/></g>
<text x="1423" y="703.8" class="c">Termopalkki</text>
<g filter="url(#shadow)"><polygon points="1316.7,735.6 1452.4,735.6 1452.4,771.0 1316.7,771.0 1316.7,760.0 1250.0,753.3 1316.7,748.0" fill="#fff" stroke="#555" stroke-width="1.5"/></g>
<text x="1334.4" y="759.2" class="c">Termokenkä</text>
</g>
<rect x="980.8" y="239" width="667" height="812.8" fill="none" stroke="#4d4d4d" stroke-width="2"/>
</svg>
</body></html>
